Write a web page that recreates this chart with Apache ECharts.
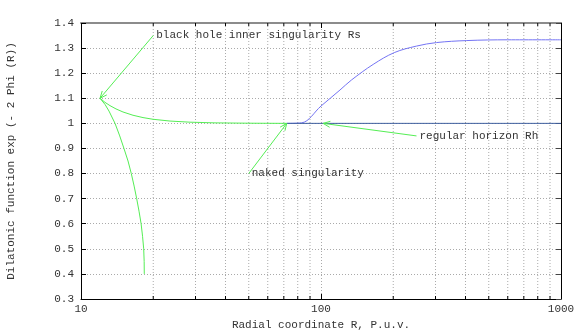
<!DOCTYPE html>
<html>
<head>
<meta charset="utf-8">
<script src="https://cdn.jsdelivr.net/npm/echarts@6/dist/echarts.min.js"></script>
<style>html,body{margin:0;padding:0;background:#fff}#c{width:581px;height:332px}</style>
</head>
<body>
<div id="c"></div>
<script>
// ---- data ----
var xLabels = [10, 100, 1000];
var minorTicks = [20, 30, 40, 50, 60, 70, 80, 90, 200, 300, 400, 500, 600, 700, 800, 900];
var greenDown = [[12, 1.1], [12.6, 1.075], [13.08, 1.049], [13.86, 1.0], [14.5, 0.95], [15.1, 0.9], [15.7, 0.85], [16.2, 0.8], [16.65, 0.75], [17.06, 0.7], [17.45, 0.65], [17.8, 0.6], [18.05, 0.55], [18.25, 0.5], [18.33, 0.45], [18.35, 0.4]];
var greenFlat = [[12, 1.1], [12.59, 1.0837], [13.21, 1.0706], [13.99, 1.0576], [14.96, 1.0454], [16.47, 1.0323], [18.13, 1.023], [19.95, 1.0163], [23.49, 1.0092], [28.46, 1.0047], [36.17, 1.002], [50.6, 1.0006], [72, 1.0]];
var blueCurve = [[72, 1.0], [83, 1.002], [100, 1.069], [120, 1.133], [134, 1.173], [165, 1.235], [202, 1.282], [250, 1.308], [303, 1.322], [405, 1.33], [600, 1.333], [1000, 1.333]];
var unitLine = [[72, 1.0], [1000, 1.0]];
var arrowLines = [[20, 1.35, 12, 1.1], [50, 0.8, 72, 1.0], [250, 0.95, 102, 1.0]];
var arrowLabels = ['black hole inner singularity Rs', 'naked singularity', 'regular horizon Rh'];

var FONT = 'Liberation Mono';
var chart = echarts.init(document.getElementById('c'), null, {renderer: 'canvas'});

function arrowItem(params, api) {
  var p1 = api.coord([api.value(0), api.value(1)]);
  var p2 = api.coord([api.value(2), api.value(3)]);
  var dx = p2[0] - p1[0], dy = p2[1] - p1[1];
  var len = Math.sqrt(dx * dx + dy * dy);
  var ux = dx / len, uy = dy / len;
  var hl = 7, hw = 3;
  var bx = p2[0] - ux * hl, by = p2[1] - uy * hl;
  var h1 = [bx - uy * hw, by + ux * hw];
  var h2 = [bx + uy * hw, by - ux * hw];
  return {
    type: 'group',
    children: [
      {type: 'line', shape: {x1: p1[0], y1: p1[1], x2: p2[0], y2: p2[1]}, style: {stroke: '#55ee55', lineWidth: 1}},
      {type: 'polyline', shape: {points: [h1, p2, h2]}, style: {stroke: '#55ee55', lineWidth: 1, fill: 'none'}},
      {type: 'text', style: {text: arrowLabels[params.dataIndex], x: p1[0] + 3, y: p1[1], verticalAlign: 'middle', align: 'left', font: '11px "' + FONT + '"', fill: '#333'}}
    ]
  };
}

function minorItem(params, api) {
  var v = api.value(0);
  var top = api.coord([v, 1.4]);
  var bot = api.coord([v, 0.3]);
  return {
    type: 'group',
    children: [
      {type: 'line', shape: {x1: top[0], y1: top[1], x2: bot[0], y2: bot[1]}, style: {stroke: '#aaa', lineWidth: 1, lineDash: [1, 2]}},
      {type: 'line', shape: {x1: bot[0], y1: bot[1], x2: bot[0], y2: bot[1] - 3}, style: {stroke: '#000', lineWidth: 1}},
      {type: 'line', shape: {x1: top[0], y1: top[1], x2: top[0], y2: top[1] + 3}, style: {stroke: '#000', lineWidth: 1}}
    ]
  };
}

var xBase = {
  type: 'log', logBase: 10, min: 10, max: 1000,
  axisTick: {inside: true, length: 5, lineStyle: {color: '#000'}},
  splitLine: {show: false}
};

chart.setOption({
  animation: false,
  backgroundColor: '#fff',
  grid: {left: 81, right: 20, top: 23, bottom: 33, containLabel: false, outerBoundsMode: 'none'},
  xAxis: [
    Object.assign({}, xBase, {
      position: 'bottom',
      name: 'Radial coordinate R, P.u.v.',
      nameLocation: 'middle', nameGap: 7,
      nameTextStyle: {fontFamily: FONT, fontSize: 11, color: '#333'},
      axisLine: {lineStyle: {color: '#000', width: 1}},
      axisLabel: {fontFamily: FONT, fontSize: 11, color: '#333', margin: 5,
        formatter: function (v) { return xLabels.indexOf(Math.round(v)) >= 0 ? String(Math.round(v)) : ''; }},
      splitLine: {show: true, lineStyle: {color: '#aaa', type: [1, 2]}}
    }),
    Object.assign({}, xBase, {
      position: 'top',
      axisLine: {lineStyle: {color: '#8c8c8c', width: 2}},
      axisLabel: {show: false}
    })
  ],
  yAxis: [
    {
      type: 'value', min: 0.3, max: 1.4, interval: 0.1, position: 'left',
      name: 'Dilatonic function exp (- 2 Phi (R))',
      nameLocation: 'middle', nameGap: 64, nameRotate: 90,
      nameTextStyle: {fontFamily: FONT, fontSize: 11, color: '#333'},
      axisLine: {show: true, lineStyle: {color: '#000'}},
      axisTick: {show: true, inside: true, length: 5, lineStyle: {color: '#000'}},
      axisLabel: {fontFamily: FONT, fontSize: 11, color: '#333', margin: 7,
        formatter: function (v) { return String(Math.round(v * 10) / 10); }},
      splitLine: {show: true, lineStyle: {color: '#aaa', type: [1, 2]}}
    },
    {
      type: 'value', min: 0.3, max: 1.4, interval: 0.1, position: 'right',
      axisLine: {show: true, lineStyle: {color: '#000'}},
      axisTick: {show: true, inside: true, length: 5, lineStyle: {color: '#444'}},
      axisLabel: {show: false},
      splitLine: {show: false}
    }
  ],
  series: [
    {type: 'custom', renderItem: minorItem, data: minorTicks.map(function (v) { return [v, 1]; }), silent: true, z: 1},
    {type: 'line', data: greenDown, smooth: false, symbol: 'none', lineStyle: {color: '#55ee55', width: 1}, z: 3},
    {type: 'line', data: greenFlat, smooth: false, symbol: 'none', lineStyle: {color: '#55ee55', width: 1}, z: 3},
    {type: 'line', data: blueCurve, smooth: 0.35, symbol: 'none', lineStyle: {color: '#7474f4', width: 1}, z: 3},
    {type: 'line', data: unitLine, symbol: 'none', lineStyle: {color: '#3f5f9f', width: 1}, z: 4},
    {type: 'custom', renderItem: arrowItem, data: arrowLines, silent: true, z: 5}
  ]
});
</script>
</body>
</html>
